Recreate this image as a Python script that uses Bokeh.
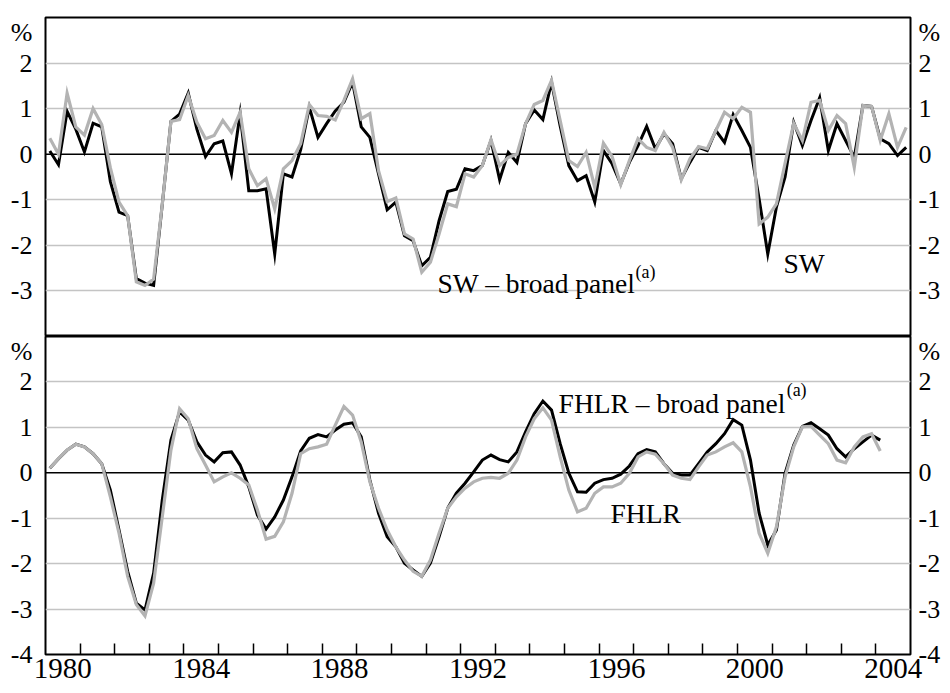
from bokeh.plotting import figure
from bokeh.layouts import column
from bokeh.models import FixedTicker, Label, Span, Range1d, LinearAxis
from bokeh.embed import file_html
from bokeh.resources import INLINE

# ---------------- data (quarterly, starting 1980 Q1) ----------------
start_year = 1980

sw = [0.07, -0.23, 0.94, 0.55, 0.05, 0.68, 0.6, -0.6, -1.27, -1.35,
      -2.73, -2.83, -2.88, -1.1, 0.72, 0.88, 1.34, 0.55, -0.05, 0.23,
      0.29, -0.43, 0.89, -0.8, -0.8, -0.76, -2.19, -0.43, -0.5, 0.1,
      1.03, 0.37, 0.67, 0.95, 1.14, 1.58, 0.6, 0.37, -0.43, -1.22,
      -1.05, -1.79, -1.9, -2.45, -2.26, -1.46, -0.82, -0.77, -0.32, -0.36,
      -0.25, 0.3, -0.56, 0.04, -0.18, 0.67, 0.97, 0.76, 1.58, 0.62,
      -0.25, -0.58, -0.47, -1.05, 0.08, -0.21, -0.65, -0.18, 0.19, 0.61,
      0.12, 0.45, 0.23, -0.54, -0.18, 0.15, 0.08, 0.52, 0.26, 0.87,
      0.52, 0.15, -0.98, -2.19, -1.16, -0.5, 0.7, 0.19, 0.74, 1.24,
      0.08, 0.67, 0.3, -0.07, 1.07, 1.05, 0.34, 0.23, -0.03, 0.15]

sw_broad = [0.35, 0.0, 1.34, 0.6, 0.42, 1.0, 0.65, -0.3, -1.05, -1.35,
            -2.8, -2.88, -2.74, -1.1, 0.72, 0.76, 1.29, 0.7, 0.34, 0.41,
            0.74, 0.48, 0.92, -0.32, -0.69, -0.54, -1.2, -0.32, -0.14, 0.23,
            1.09, 0.85, 0.83, 0.75, 1.18, 1.65, 0.78, 0.89, -0.36, -1.04,
            -0.96, -1.75, -1.86, -2.59, -2.37, -1.75, -1.09, -1.15, -0.43, -0.5,
            -0.25, 0.32, -0.25, -0.07, 0.0, 0.67, 1.09, 1.18, 1.62, 0.74,
            -0.14, -0.27, 0.04, -0.73, 0.24, -0.05, -0.67, -0.14, 0.34, 0.15,
            0.08, 0.48, 0.15, -0.56, -0.1, 0.17, 0.12, 0.52, 0.92, 0.78,
            1.03, 0.92, -1.53, -1.38, -1.09, -0.2, 0.68, 0.3, 1.14, 1.18,
            0.52, 0.85, 0.67, -0.29, 1.07, 1.05, 0.3, 0.89, 0.15, 0.59]

fhlr_broad = [0.1, 0.31, 0.5, 0.63, 0.57, 0.42, 0.2, -0.38, -1.26, -2.17,
              -2.87, -3.02, -2.21, -0.6, 0.72, 1.34, 1.16, 0.68, 0.39, 0.24,
              0.44, 0.46, 0.17, -0.31, -0.93, -1.24, -0.97, -0.6, -0.09, 0.48,
              0.76, 0.84, 0.79, 0.94, 1.07, 1.1, 0.79, -0.16, -0.89, -1.41,
              -1.63, -1.99, -2.14, -2.28, -1.99, -1.41, -0.78, -0.45, -0.23, 0.02,
              0.28, 0.39, 0.29, 0.24, 0.46, 0.9, 1.3, 1.58, 1.38, 0.64,
              -0.01, -0.42, -0.43, -0.23, -0.15, -0.12, -0.03, 0.15, 0.42, 0.51,
              0.46, 0.2, -0.01, -0.05, -0.05, 0.2, 0.46, 0.64, 0.86, 1.17,
              1.05, 0.28, -0.89, -1.59, -1.26, -0.01, 0.61, 1.02, 1.1, 0.97,
              0.83, 0.53, 0.35, 0.53, 0.68, 0.83, 0.72]

fhlr = [0.1, 0.31, 0.5, 0.63, 0.57, 0.42, 0.2, -0.53, -1.33, -2.28,
        -2.9, -3.15, -2.43, -0.97, 0.5, 1.41, 1.19, 0.53, 0.17, -0.2,
        -0.09, 0.0, -0.12, -0.27, -0.82, -1.46, -1.4, -1.08, -0.45, 0.42,
        0.53, 0.57, 0.63, 1.05, 1.46, 1.27, 0.68, -0.2, -0.78, -1.26,
        -1.63, -1.92, -2.17, -2.28, -1.92, -1.33, -0.78, -0.53, -0.34, -0.2,
        -0.12, -0.1, -0.12, -0.01, 0.28, 0.79, 1.19, 1.43, 1.16, 0.35,
        -0.38, -0.86, -0.78, -0.45, -0.31, -0.31, -0.23, -0.01, 0.35, 0.46,
        0.41, 0.2, -0.05, -0.12, -0.15, 0.13, 0.39, 0.46, 0.57, 0.66,
        0.46, -0.31, -1.33, -1.77, -1.19, -0.09, 0.57, 1.01, 1.02, 0.83,
        0.64, 0.28, 0.22, 0.57, 0.79, 0.86, 0.48]

year_labels = ["1980", "1984", "1988", "1992", "1996", "2000", "2004"]
y_ticks_top = [-3, -2, -1, 0, 1, 2]
y_ticks_bottom = [-4, -3, -2, -1, 0, 1, 2]
grid_ticks = [-3, -2, -1, 1, 2]
unit_label = "%"
unit_pos = 2.68


def quarter_x(n):
    return [start_year + (k + 0.5) / 4 for k in range(n)]


FONT = "Liberation Serif"
BLACK = "#000000"
GREY = "#b3b3b3"
GRID = "#c4c4c4"
W = 946
X_RANGE = (1980, 2005)
Y_RANGE = (-4, 3)
B_LEFT, B_RIGHT = 45, 36


def style_y_axis(ax, ticks, standoff):
    ax.ticker = FixedTicker(ticks=ticks + [unit_pos])
    overrides = {t: ("-%d" % (-t) if t < 0 else "%d" % t) for t in ticks}
    overrides[unit_pos] = unit_label
    ax.major_label_overrides = overrides
    ax.major_tick_in = 0
    ax.major_tick_out = 0
    ax.minor_tick_in = 0
    ax.minor_tick_out = 0
    ax.major_tick_line_color = None
    ax.minor_tick_line_color = None
    ax.axis_line_color = None
    ax.major_label_text_font = FONT
    ax.major_label_text_font_size = "26px"
    ax.major_label_text_color = BLACK
    ax.major_label_standoff = standoff


def make_panel(height, ticks, with_x_axis, min_top, min_bottom):
    p = figure(width=W, height=height,
               x_range=Range1d(*X_RANGE), y_range=Range1d(*Y_RANGE),
               output_backend="svg", toolbar_location=None,
               x_axis_location="below" if with_x_axis else None,
               y_axis_location="left",
               min_border_left=B_LEFT, min_border_right=B_RIGHT,
               min_border_top=min_top, min_border_bottom=min_bottom)
    p.background_fill_color = "white"
    p.border_fill_color = "white"
    p.outline_line_color = BLACK
    p.outline_line_width = 2
    p.xgrid.visible = False
    p.ygrid.ticker = FixedTicker(ticks=grid_ticks)
    p.ygrid.grid_line_color = GRID
    p.ygrid.grid_line_width = 1.5
    zero = Span(location=0, dimension="width", line_color=BLACK,
                line_width=1.5, level="underlay")
    p.add_layout(zero)
    style_y_axis(p.yaxis[0], ticks, 13)
    right = LinearAxis()
    style_y_axis(right, ticks, 8)
    p.add_layout(right, "right")
    return p


def annotate(p, x, y, text, size):
    p.add_layout(Label(x=x, y=y, text=text, text_font=FONT,
                       text_font_size=size, text_baseline="alphabetic",
                       text_align="left", text_color=BLACK))


# ---------------- top panel: SW ----------------
top = make_panel(336, y_ticks_top, False, 17, 0)
top.line(quarter_x(len(sw)), sw, line_color=BLACK, line_width=3,
         line_join="miter")
top.line(quarter_x(len(sw_broad)), sw_broad, line_color=GREY, line_width=3.2,
         line_join="miter")

annotate(top, 1991.33, -2.84, "SW \u2013 broad panel", "27.5px")
annotate(top, 1997.05, -2.58, "(a)", "18px")
annotate(top, 2001.33, -2.40, "SW", "27.5px")

# ---------------- bottom panel: FHLR ----------------
bottom = make_panel(356, y_ticks_bottom, True, 0, 38)
bottom.line(quarter_x(len(fhlr_broad)), fhlr_broad, line_color=BLACK,
            line_width=3, line_join="miter")
bottom.line(quarter_x(len(fhlr)), fhlr, line_color=GREY, line_width=3.2,
            line_join="miter")

xa = bottom.xaxis[0]
label_pos = [int(s) + 0.5 for s in year_labels]
xa.ticker = FixedTicker(ticks=label_pos,
                        minor_ticks=list(range(X_RANGE[0] + 1, X_RANGE[1])))
xa.major_label_overrides = {pos: s for pos, s in zip(label_pos, year_labels)}
xa.major_tick_in = 0
xa.major_tick_out = 0
xa.major_tick_line_color = None
xa.minor_tick_in = 11
xa.minor_tick_out = 0
xa.minor_tick_line_color = BLACK
xa.minor_tick_line_width = 1.5
xa.axis_line_color = None
xa.major_label_text_font = FONT
xa.major_label_text_font_size = "29px"
xa.major_label_text_color = BLACK
xa.major_label_standoff = 4

annotate(bottom, 1994.83, 1.53, "FHLR \u2013 broad panel", "27.5px")
annotate(bottom, 2001.42, 1.82, "(a)", "18px")
annotate(bottom, 1996.33, -0.89, "FHLR", "27.5px")

layout = column(top, bottom, spacing=0)

with open("out.html", "w") as f:
    f.write(file_html(layout, INLINE))
